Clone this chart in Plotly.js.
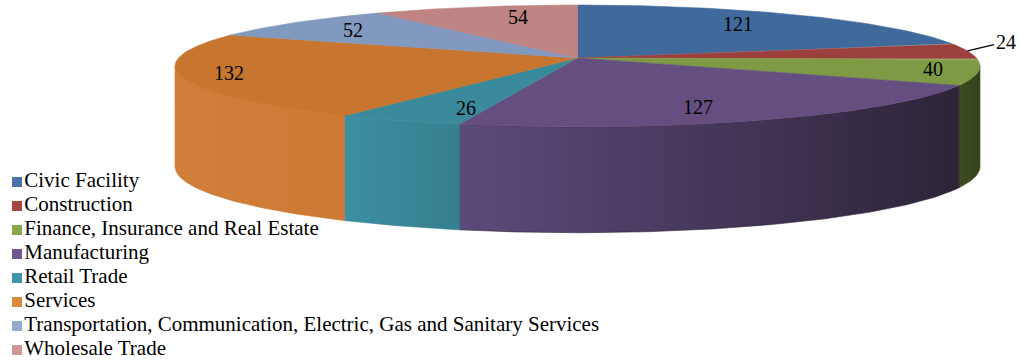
<!DOCTYPE html>
<html>
<head>
<meta charset="utf-8">
<script src="https://cdn.plot.ly/plotly-3.0.1.min.js"></script>
<style>html,body{margin:0;padding:0;background:#fff;}#chart{width:1021px;height:364px;}</style>
</head>
<body>
<div id="chart"></div>
<script>
// ---- data ----
const categories = ["Civic Facility", "Construction", "Finance, Insurance and Real Estate", "Manufacturing", "Retail Trade", "Services", "Transportation, Communication, Electric, Gas and Sanitary Services", "Wholesale Trade"];
const values = [121, 24, 40, 127, 26, 132, 52, 54];
const topColors = ["#3f6a9b", "#9c403d", "#7e9a45", "#654f80", "#3a8a9c", "#c7752f", "#8199be", "#be8584"];
const legendColors = ["#4a72a6", "#a84442", "#89a54e", "#6f5691", "#3f93aa", "#d98a3c", "#96abd0", "#d09796"];
const wallLeft = ["#3a6290", "#8c3a38", "#3d4d20", "#5d4a7c", "#3d8fa2", "#d17e3b", "#7890b4", "#b07c7b"];
const wallRight = ["#335883", "#7d3431", "#344219", "#2d2439", "#357f8f", "#cc7934", "#6f86aa", "#a47271"];

// ---- 3D projection parameters (styling) ----
const CX = 577.5, CY = 58, A = 399, B = 59.9, K = 0.131, DEPTH = 100;
function proj(t, h) {
  const u = Math.sin(t), v = Math.cos(t);
  const s = 1 / (1 + K * v);
  return [CX + A * u * s, CY - B * v * s + h * Math.pow(s, 0.4)];
}
function arc(t0, t1, h, n) {
  const xs = [], ys = [];
  for (let i = 0; i <= n; i++) {
    const t = t0 + (t1 - t0) * i / n;
    const p = proj(t, h); xs.push(p[0]); ys.push(p[1]);
  }
  return [xs, ys];
}

const total = values.reduce((a, b) => a + b, 0);
const starts = [], ends = [];
let acc = 0;
values.forEach(v => { starts.push(acc / total * 2 * Math.PI); acc += v; ends.push(acc / total * 2 * Math.PI); });

const traces = [];
// side walls
const visLo = Math.acos(-K), visHi = 2 * Math.PI - Math.acos(-K);
values.forEach((v, i) => {
  const lo = Math.max(starts[i], visLo), hi = Math.min(ends[i], visHi);
  if (hi <= lo) return;
  const n = Math.max(8, Math.ceil((hi - lo) * 80));
  const topA = arc(lo, hi, 0, n), botA = arc(hi, lo, DEPTH, n);
  const xs = topA[0].concat(botA[0]); xs.push(topA[0][0]);
  const ys = topA[1].concat(botA[1]); ys.push(topA[1][0]);
  traces.push({
    type: "scatter", mode: "lines", x: xs, y: ys, fill: "toself",
    fillcolor: wallLeft[i],
    fillgradient: { type: "horizontal", colorscale: [[0, wallLeft[i]], [1, wallRight[i]]] },
    line: { width: 0.6, color: wallRight[i] }, hoverinfo: "skip", showlegend: false
  });
});
// top faces
values.forEach((v, i) => {
  const n = Math.max(8, Math.ceil((ends[i] - starts[i]) * 80));
  const a = arc(starts[i], ends[i], 0, n);
  const xs = [CX].concat(a[0], [CX]);
  const ys = [CY].concat(a[1], [CY]);
  traces.push({
    type: "scatter", mode: "lines", x: xs, y: ys, fill: "toself",
    fillcolor: topColors[i], line: { width: 0.6, color: topColors[i] },
    hoverinfo: "skip", showlegend: false, name: categories[i]
  });
});
// legend (drawn as a marker+text trace, one row per category)
const LEG_X = 17, LEG_Y0 = 182, LEG_DY = 24;
traces.push({
  type: "scatter", mode: "markers+text",
  x: categories.map(() => LEG_X),
  y: categories.map((c, i) => LEG_Y0 + i * LEG_DY),
  text: categories, textposition: "middle right",
  textfont: { family: "Liberation Serif, Times New Roman, serif", size: 21, color: "#000" },
  marker: { symbol: "square", size: 10, color: legendColors },
  hoverinfo: "skip", showlegend: false, cliponaxis: false
});

// data labels
const annotations = [];
values.forEach((v, i) => {
  const mid = (starts[i] + ends[i]) / 2;
  const p0 = proj(starts[i], 0), p1 = proj(ends[i], 0);
  const chord = Math.hypot(p1[0] - p0[0], p1[1] - p0[1]);
  const font = { family: "Liberation Serif, Times New Roman, serif", size: 20, color: "#000" };
  if (chord < 31) {
    const p = proj(mid, 0);
    annotations.push({
      x: p[0], y: p[1], xref: "x", yref: "y", text: String(v), font: font,
      showarrow: true, arrowhead: 0, arrowwidth: 1.3, arrowcolor: "#000",
      ax: 38, ay: -9, standoff: 0
    });
  } else {
    const u = Math.sin(mid), w = Math.cos(mid);
    const s = 1 / (1 + K * w);
    const fx = 0.45 + 0.45 * Math.abs(u), fy = 0.8;
    annotations.push({
      x: CX + A * u * s * fx, y: CY - B * w * s * fy, xref: "x", yref: "y",
      text: String(v), font: font, showarrow: false
    });
  }
});

const layout = {
  width: 1021, height: 364,
  margin: { l: 0, r: 0, t: 0, b: 0, autoexpand: false },
  paper_bgcolor: "#ffffff", plot_bgcolor: "#ffffff",
  xaxis: { range: [0, 1021], visible: false, fixedrange: true },
  yaxis: { range: [364, 0], visible: false, fixedrange: true },
  showlegend: false,
  annotations: annotations
};

Plotly.newPlot("chart", traces, layout, { staticPlot: true, displayModeBar: false });
</script>
</body>
</html>
